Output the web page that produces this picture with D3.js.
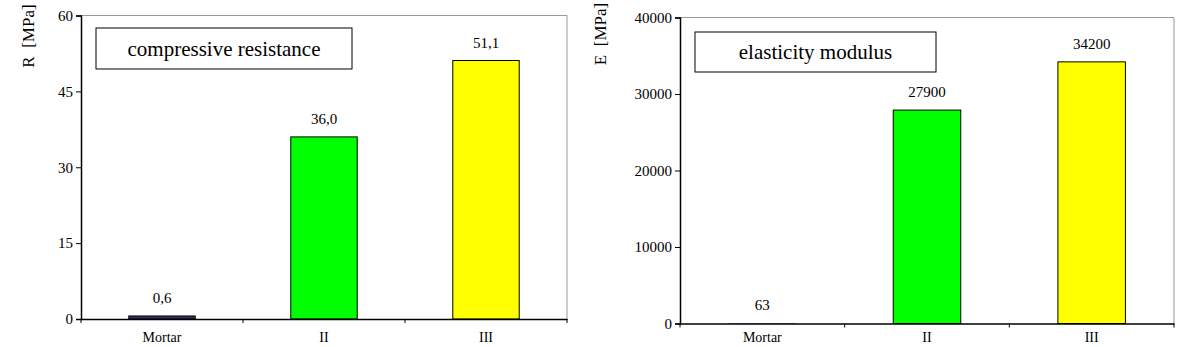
<!DOCTYPE html>
<meta charset="utf-8">
<style>
  body { margin: 0; background: #fff; }
  svg text { font-family: "Liberation Serif", Tinos, "Times New Roman", "DejaVu Serif", serif; fill: #000; }
</style>
<body>
<script src="https://cdn.jsdelivr.net/npm/d3@7"></script>
<script>

var categories = ["Mortar", "II", "III"],
    barColors = ["#333366", "#00ff00", "#ffff00"];

var resistance = [0.6, 36.0, 51.1],
    resistanceTicks = [0, 15, 30, 45, 60];

var elasticity = [63, 27900, 34200],
    elasticityTicks = [0, 10000, 20000, 30000, 40000];

var svg = d3.select("body").append("svg")
    .attr("width", 1194)
    .attr("height", 347);

// left panel
drawPanel({
  left: 81, top: 15.5, right: 567, bottom: 319,
  values: resistance, ticks: resistanceTicks, max: 60,
  fmt: d => d3.format(".1f")(d).replace(".", ","),
  ylabel: "R  [MPa]", ylabelX: 28, ylabelY: 36,
  title: "compressive resistance", box: [96, 28, 256, 41]
});

// right panel
drawPanel({
  left: 680, top: 17.5, right: 1174, bottom: 323.5,
  values: elasticity, ticks: elasticityTicks, max: 40000,
  fmt: d => String(d),
  ylabel: "E  [MPa]", ylabelX: 600, ylabelY: 34,
  title: "elasticity modulus", box: [695, 32, 241, 40]
});

function drawPanel(c) {
  var x = d3.scaleBand()
      .domain(categories)
      .range([c.left, c.right]);

  var y = d3.scaleLinear()
      .domain([0, c.max])
      .range([c.bottom, c.top]);

  var g = svg.append("g");

  // gray frame top/right
  g.append("path")
      .attr("d", "M" + c.left + "," + c.top + "H" + c.right + "V" + c.bottom)
      .attr("fill", "none")
      .attr("stroke", "#999")
      .attr("stroke-width", 1);

  var bw = x.bandwidth() * 0.41;

  g.selectAll(".bar")
    .data(c.values)
    .enter().append("rect")
      .attr("class", "bar")
      .attr("x", (d, i) => x(categories[i]) + (x.bandwidth() - bw) / 2)
      .attr("y", d => y(d))
      .attr("width", bw)
      .attr("height", d => y(0) - y(d))
      .attr("fill", (d, i) => barColors[i])
      .attr("stroke", "#000")
      .attr("stroke-width", d => (y(0) - y(d)) < 1 ? 0 : 1);

  g.selectAll(".val")
    .data(c.values)
    .enter().append("text")
      .attr("class", "val")
      .attr("x", (d, i) => x(categories[i]) + x.bandwidth() / 2)
      .attr("y", d => y(d) - 13)
      .attr("text-anchor", "middle")
      .attr("font-size", 15)
      .text(c.fmt);

  var yAxis = g.append("g")
      .attr("transform", "translate(" + c.left + ",0)")
      .call(d3.axisLeft(y).tickValues(c.ticks).tickSize(5).tickPadding(3).tickFormat(d3.format("d")));
  yAxis.attr("font-family", null).attr("font-size", 15);
  yAxis.select(".domain").attr("stroke", "#000").attr("stroke-width", 1.5);

  var xAxis = g.append("g")
      .attr("transform", "translate(0," + c.bottom + ")")
      .call(d3.axisBottom(x).tickSize(0).tickPadding(0));
  xAxis.attr("font-family", null).attr("font-size", 14);
  xAxis.selectAll("text").attr("dy", null).attr("y", 342 - c.bottom);
  xAxis.select(".domain").attr("stroke", "#000").attr("stroke-width", 1.5);

  // category separator ticks
  var edges = categories.map(d => x(d)).concat([c.right]);
  g.selectAll(".sep")
    .data(edges)
    .enter().append("line")
      .attr("class", "sep")
      .attr("x1", d => d).attr("x2", d => d)
      .attr("y1", c.bottom).attr("y2", c.bottom + 4)
      .attr("stroke", "#000");

  g.append("text")
      .attr("transform", "translate(" + c.ylabelX + "," + c.ylabelY + ") rotate(-90)")
      .attr("text-anchor", "middle")
      .attr("dy", "0.35em")
      .attr("font-size", 17)
      .style("white-space", "pre")
      .text(c.ylabel);

  g.append("rect")
      .attr("x", c.box[0]).attr("y", c.box[1])
      .attr("width", c.box[2]).attr("height", c.box[3])
      .attr("fill", "#fff")
      .attr("stroke", "#000");

  g.append("text")
      .attr("x", c.box[0] + c.box[2] / 2)
      .attr("y", c.box[1] + c.box[3] / 2)
      .attr("dy", "0.35em")
      .attr("text-anchor", "middle")
      .attr("font-size", 21)
      .text(c.title);
}

</script>
